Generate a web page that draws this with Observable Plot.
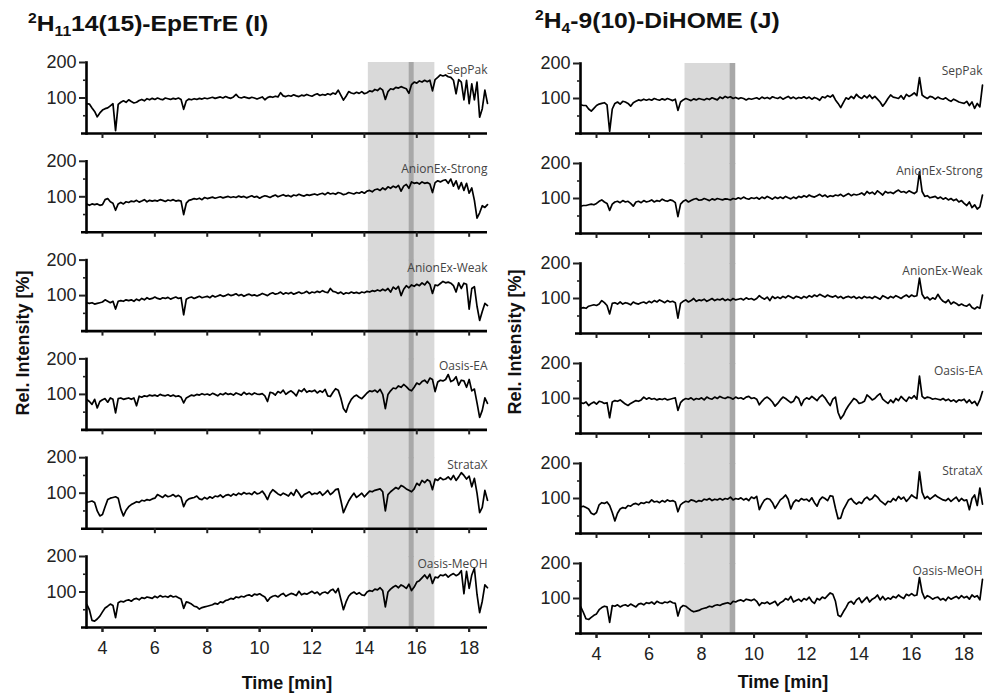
<!DOCTYPE html>
<html><head><meta charset="utf-8">
<script src="https://cdn.jsdelivr.net/npm/d3@7"></script>
<script src="https://cdn.jsdelivr.net/npm/@observablehq/plot@0.6"></script>
<style>
body{margin:0;background:#fff;}
#wrap{position:relative;width:987px;height:699px;overflow:hidden;font-family:"Liberation Sans",Arial,sans-serif;color:#111;}
.title{position:absolute;font-weight:bold;font-size:22px;line-height:22px;white-space:nowrap;transform:scaleX(1.12);transform-origin:0 50%;}
.sup{font-size:14px;position:relative;top:-8px;}
.sub{font-size:14px;position:relative;top:5px;}
.ylab{position:absolute;font-weight:bold;font-size:18px;white-space:nowrap;transform:translate(-50%,-50%) rotate(-90deg);}
.xlab{position:absolute;font-weight:bold;font-size:18px;white-space:nowrap;transform:translate(-50%,-50%);}
.panel{position:absolute;top:40px;}
</style></head>
<body>
<div id="wrap">
  <div id="left" class="panel" style="left:0px"></div>
  <div id="right" class="panel" style="left:494px"></div>
  <div class="title" style="left:28px;top:13px"><span class="sup">2</span>H<span class="sub">11</span>14(15)-EpETrE (I)</div>
  <div class="title" style="left:535px;top:10px"><span class="sup">2</span>H<span class="sub">4</span>-9(10)-DiHOME (J)</div>
  <div class="ylab" style="left:23px;top:343px">Rel. Intensity [%]</div>
  <div class="ylab" style="left:515px;top:342px">Rel. Intensity [%]</div>
  <div class="xlab" style="left:287px;top:683px">Time [min]</div>
  <div class="xlab" style="left:783px;top:682px">Time [min]</div>
</div>
<script>
const methods = ["SepPak","AnionEx-Strong","AnionEx-Weak","Oasis-EA","StrataX","Oasis-MeOH"];
const timeStart = 3.4, timeStep = 0.1;   // sampling grid of the traces (min)
const xDomain = [3.39, 18.7];
const xTicks = [4,6,8,10,12,14,16,18];
const yTicks = [100,200];
const yMinorTicks = [50,150];

// highlighted retention windows (min)
const shadeI = [14.15, 16.69], bandI = [15.71, 15.90];
const shadeJ = [7.37, 9.30],  bandJ = [9.09, 9.30];

// ---- 2H11-14(15)-EpETrE (I) ----
const I_SepPak = [84,83,72,62,47,58,
66,70,72,78,84,8,82,88,92,88,
95,90,86,88,93,96,92,98,95,99,
96,100,97,95,100,98,96,99,97,100,
96,68,92,97,95,98,96,99,97,100,
98,100,102,99,101,103,100,104,101,99,
103,110,102,100,103,101,99,102,100,97,
100,103,95,101,104,102,105,103,115,106,
104,107,105,109,106,104,108,106,110,107,
105,109,112,107,110,108,112,109,114,111,
122,108,94,105,118,114,112,116,113,118,
112,115,120,118,124,121,128,122,96,118,
126,124,130,128,132,129,126,113,138,145,
142,148,145,150,146,150,120,152,158,165,
162,165,160,158,150,112,152,145,95,150,
84,140,95,145,46,70,122,85];
const I_AnionExStrong = [80,76,80,78,80,76,
78,92,95,86,82,62,80,84,80,86,
84,88,86,90,85,88,92,86,90,88,
90,88,92,90,87,91,89,92,88,90,
88,50,82,90,92,95,93,96,92,98,
95,97,99,96,98,100,97,99,101,98,
100,98,102,99,101,97,100,103,99,101,
96,100,103,101,98,102,105,100,103,106,
102,104,100,105,103,107,104,102,106,104,
106,108,105,108,110,106,112,108,110,107,
112,110,106,108,112,110,108,112,110,114,
110,116,118,114,120,122,118,125,120,128,
124,130,126,132,116,130,135,124,142,138,
140,136,142,138,140,136,112,140,145,142,
146,148,138,150,130,145,122,140,118,138,
110,125,90,40,55,75,70,78];
const I_AnionExWeak = [80,78,80,76,78,80,
82,88,84,80,84,62,84,86,84,88,
86,88,84,90,86,92,88,94,90,92,
96,92,90,94,92,95,90,93,96,92,
94,46,90,94,96,92,95,98,94,96,
98,94,100,96,99,102,98,100,104,100,
102,105,100,103,98,102,104,100,102,99,
102,106,103,100,105,108,104,106,110,104,
108,105,109,104,107,110,106,108,112,106,
110,108,112,109,114,110,108,120,112,110,
106,110,104,108,106,110,107,109,106,110,
108,112,110,114,112,116,113,118,114,120,
110,124,118,126,100,118,128,122,130,126,
132,128,136,130,140,132,106,130,128,134,
140,136,138,135,128,110,136,120,135,132,
62,120,125,70,30,55,78,72];
const I_OasisEA = [86,80,72,86,62,80,
85,88,78,90,86,48,88,90,86,88,
90,86,90,68,95,92,96,94,98,96,
98,95,100,97,96,99,95,98,94,96,
92,76,90,94,98,96,100,98,102,99,
101,98,103,100,96,102,99,104,100,102,
98,104,101,98,106,100,103,99,104,101,
100,102,96,80,106,104,98,108,104,112,
100,106,110,104,96,112,108,116,106,110,
108,112,104,110,106,114,96,94,106,116,
112,90,60,50,72,86,94,98,92,88,
96,104,110,108,112,106,114,100,60,100,
110,118,116,124,120,128,122,114,110,120,
132,128,136,140,132,146,142,108,135,140,
138,142,156,136,140,150,126,140,138,120,
142,110,115,76,35,55,90,75];
const I_StrataX = [75,76,78,74,50,36,
40,62,82,86,88,90,86,55,36,52,
62,68,72,76,74,80,78,82,80,84,
86,96,92,88,95,90,92,96,90,94,
88,62,78,84,86,88,92,84,82,88,
84,90,86,92,90,95,88,94,96,92,
98,94,100,96,102,98,100,96,104,98,
100,106,96,82,100,110,104,98,94,100,
96,92,102,94,110,100,88,96,100,104,
96,100,98,104,94,100,108,96,102,110,
112,80,45,62,78,90,100,88,94,100,
90,98,106,104,108,110,112,104,50,96,
104,110,116,112,122,118,112,108,104,112,
128,122,136,130,138,134,110,140,136,144,
138,140,146,138,150,136,146,158,150,140,
148,118,142,100,45,60,108,80];
const I_OasisMeOH = [65,50,20,18,24,32,
44,55,60,66,62,28,70,74,72,76,
78,74,80,82,78,84,82,86,84,82,
88,84,90,86,88,85,90,86,88,84,
80,54,72,70,66,60,58,52,56,58,
60,62,64,68,66,72,70,76,78,82,
80,86,84,88,86,90,92,88,94,92,
95,90,86,74,84,88,90,86,92,96,
88,92,96,94,90,102,92,96,94,98,
102,96,100,92,98,100,96,104,108,98,
110,80,50,72,88,96,100,94,98,92,
90,100,104,102,108,106,112,104,58,100,
108,114,118,112,120,116,110,122,104,114,
128,132,140,148,138,150,124,142,140,148,
146,150,142,148,152,146,150,160,95,158,
110,148,167,93,42,74,120,112];

// ---- 2H4-9(10)-DiHOME (J) ----
const J_SepPak = [82,80,80,70,64,72,
80,84,86,88,82,6,70,86,90,84,
92,90,86,78,88,92,96,94,98,95,
98,95,100,97,95,99,96,100,97,94,
98,66,90,96,100,97,94,99,96,100,
98,96,100,97,102,99,96,104,100,106,
102,105,100,103,99,102,100,96,100,98,
100,102,98,104,100,103,99,105,102,100,
104,98,102,106,100,104,99,103,101,105,
100,104,98,103,100,95,105,102,108,104,
110,96,86,74,88,102,98,106,100,112,
104,100,108,102,110,100,106,98,90,78,
88,100,110,104,102,100,108,98,112,106,
110,116,108,160,110,104,100,106,104,98,
104,100,98,102,96,92,98,94,90,88,
86,92,80,90,72,86,76,138];
const J_AnionExStrong = [78,80,80,82,84,82,
86,92,96,90,86,66,84,90,92,88,
94,90,92,86,78,90,92,88,94,90,
92,96,90,94,92,98,94,92,96,94,
88,48,84,92,96,90,94,98,100,95,
96,100,97,94,99,96,100,98,96,99,
98,96,100,98,102,99,104,100,98,102,
100,103,98,104,100,106,102,98,104,100,
104,100,106,102,99,104,100,106,103,108,
104,110,106,104,108,112,106,110,104,108,
106,110,108,112,106,110,114,108,112,110,
112,116,110,120,114,118,112,122,116,110,
120,116,118,114,120,124,118,120,116,122,
118,114,120,176,120,106,108,102,104,106,
100,104,98,102,96,100,94,98,90,94,
86,80,90,74,82,70,76,110];
const J_AnionExWeak = [72,74,72,78,80,82,
80,84,94,88,80,56,86,88,84,90,
84,88,86,82,90,86,84,88,90,86,
92,88,94,90,96,92,88,94,90,92,
88,44,86,92,96,90,94,100,92,96,
94,98,92,96,100,94,98,96,100,94,
98,94,100,96,98,100,96,102,98,100,
96,100,108,102,98,104,94,106,100,104,
100,106,102,108,104,100,106,104,100,106,
102,108,104,110,106,112,108,104,110,106,
104,108,102,106,100,104,106,102,106,100,
104,100,106,102,104,100,106,102,98,108,
104,100,106,102,108,104,100,106,110,104,
110,106,108,158,112,100,104,96,102,98,
112,100,92,88,96,84,90,86,80,84,
80,78,84,74,70,76,72,110];
const J_OasisEA = [88,86,90,80,86,90,
84,92,90,86,88,45,90,94,92,96,
90,84,80,86,90,94,92,96,104,98,
102,98,100,96,99,97,100,96,98,100,
102,66,88,96,100,98,102,96,100,98,
102,96,104,100,98,104,100,106,102,100,
104,102,98,104,100,102,98,104,106,100,
102,98,82,92,100,104,98,90,78,86,
96,104,100,94,88,92,106,100,80,96,
102,98,106,100,94,104,110,102,90,80,
98,104,60,42,52,68,80,90,100,96,
86,88,92,110,104,96,100,108,114,98,
92,86,96,88,100,94,106,98,92,104,
100,108,98,164,106,100,104,102,98,100,
98,96,100,94,98,92,96,90,96,94,
98,88,96,86,92,80,96,120];
const J_StrataX = [76,78,74,70,58,54,
60,82,88,86,90,80,60,36,58,70,
74,72,80,78,84,86,82,88,86,90,
88,96,90,92,88,94,90,96,92,94,
90,62,82,88,92,90,96,94,90,94,
92,98,96,100,94,98,96,100,96,100,
98,104,96,100,98,102,96,100,94,104,
100,106,68,84,96,100,98,88,72,84,
96,102,110,98,70,88,96,92,100,96,
98,92,102,88,78,96,104,100,94,108,
106,72,42,44,68,82,96,100,90,84,
90,86,98,104,96,100,110,104,94,88,
82,92,90,100,94,106,98,104,92,100,
110,104,100,176,118,100,106,98,104,110,
104,100,96,94,100,92,98,104,92,100,
94,96,68,100,110,80,130,84];
const J_OasisMeOH = [76,60,42,40,46,52,
56,68,74,78,76,32,80,78,82,76,
80,82,78,84,80,76,84,86,82,88,
86,90,84,92,88,86,90,88,92,88,
86,50,74,80,78,72,66,62,64,66,
70,72,74,78,76,80,82,80,84,86,
88,84,92,90,94,96,92,98,96,94,
98,92,80,88,86,90,84,88,92,80,
88,92,100,96,106,90,94,98,92,100,
96,104,92,86,100,96,104,100,108,116,
112,92,52,48,62,74,88,92,84,96,
102,88,96,104,90,98,102,110,96,106,
96,102,98,106,102,110,104,100,112,108,
114,108,110,160,118,100,108,104,98,102,
104,96,100,94,104,98,102,106,100,108,
102,106,98,110,104,108,96,155];

const seriesI = [I_SepPak, I_AnionExStrong, I_AnionExWeak, I_OasisEA, I_StrataX, I_OasisMeOH];
const seriesJ = [J_SepPak, J_AnionExStrong, J_AnionExWeak, J_OasisEA, J_StrataX, J_OasisMeOH];

const bad = [...seriesI, ...seriesJ].map((s, i) => [i, s.length]).filter(d => d[1] !== 154);
if (bad.length) throw new Error("length mismatch " + JSON.stringify(bad));

function panel(seriesList, shade, band, L) {
  const rows = [];
  methods.forEach((m, k) => seriesList[k].forEach((v, i) =>
    rows.push({method: m, t: +(timeStart + i * timeStep).toFixed(2), v})));
  const gap = L.pad / (1 - L.pad) * 200 + 3;
  const last = methods.length - 1;
  const shadeRows = methods.map((m, k) => ({method: m, x1: shade[0], x2: shade[1], y1: k < last ? -gap : 0, y2: 200}));
  const bandRows = methods.map((m, k) => ({method: m, x1: band[0], x2: band[1], y1: k < last ? -gap : 0, y2: 200}));
  return Plot.plot({
    width: L.width, height: 659,
    marginLeft: 86, marginRight: L.mr, marginTop: L.mt, marginBottom: L.mb,
    style: {fontFamily: "'Liberation Sans', Arial, sans-serif", fontSize: "18px", color: "#222", background: "transparent"},
    x: {domain: xDomain, label: null},
    y: {domain: [0, 200], label: null},
    fy: {domain: methods, paddingInner: L.pad, paddingOuter: 0, round: false, axis: null, label: null},
    marks: [
      Plot.rect(shadeRows, {x1: "x1", x2: "x2", y1: "y1", y2: "y2", fy: "method", fill: "#d9d9d9"}),
      Plot.rect(bandRows, {x1: "x1", x2: "x2", y1: "y1", y2: "y2", fy: "method", fill: "#a8a8a8"}),
      Plot.line(rows, {x: "t", y: "v", fy: "method", stroke: "#000", strokeWidth: 1.7, strokeLinejoin: "round"}),
      Plot.frame({anchor: "left", stroke: "#000", strokeWidth: 2.6}),
      Plot.ruleY([0], {stroke: "#000", strokeWidth: 2.6, insetLeft: -5}),
      Plot.axisY({ticks: yTicks, tickSize: 7, tickPadding: 3, strokeWidth: 2, fontSize: 18, fill: "#222", label: null}),
      Plot.axisY({ticks: yMinorTicks, tickSize: 3, strokeWidth: 1.6, tickFormat: () => "", label: null}),
      Plot.axisX({ticks: xTicks, tickSize: 5, strokeWidth: 2, tickFormat: () => "", label: null, facetAnchor: null}),
      Plot.axisX({ticks: xTicks, tickSize: 5, tickPadding: 9, strokeWidth: 2, fontSize: 18, fill: "#222", label: null}),
      Plot.text(methods, {fy: d => d, text: d => d, frameAnchor: "top-right", dy: 3, fontSize: 12,
        fontFamily: "'Open Sans', 'Noto Sans', sans-serif", fill: "#444"})
    ]
  });
}

document.getElementById("left").append(panel(seriesI, shadeI, bandI, {width: 490, mr: 3, mt: 22, mb: 72, pad: 0.2814}));
document.getElementById("right").append(panel(seriesJ, shadeJ, bandJ, {width: 493, mr: 5, mt: 23, mb: 66, pad: 0.3}));
</script>
</body></html>
